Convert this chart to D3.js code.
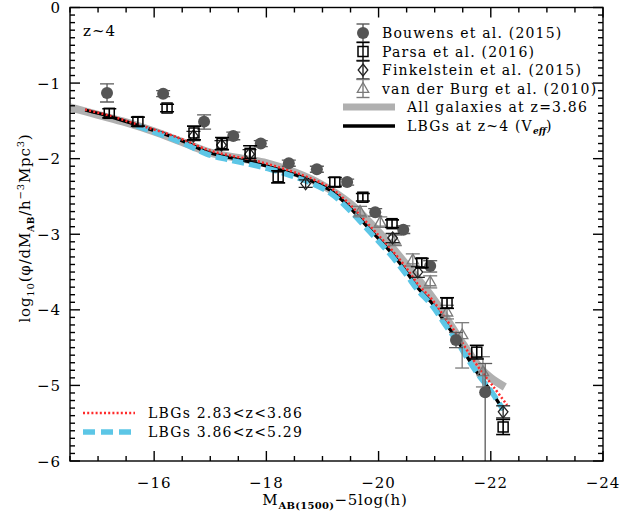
<!DOCTYPE html>
<html><head><meta charset="utf-8">
<script src="https://cdn.jsdelivr.net/npm/d3@7"></script>
<style>
body{margin:0;background:#fff;}
text{font-family:"DejaVu Serif",serif;fill:#000;}
</style></head>
<body><svg id="c" width="620" height="518"></svg>
<script>
// ---- data ----
const xTicks = [-16, -18, -20, -22, -24];
const yTicks = [0, -1, -2, -3, -4, -5, -6];

const bouwensM   = [-15.16, -16.16, -16.89, -17.41, -17.90, -18.40, -18.90, -19.44, -19.94, -20.44, -20.92, -21.38, -21.90];
const bouwensPhi = [-1.13, -1.14, -1.51, -1.70, -1.80, -2.06, -2.14, -2.31, -2.71, -2.94, -3.42, -4.40, -5.09];
const bouwensUp  = [0.12, 0.04, 0.09, 0.05, 0.04, 0.04, 0.04, 0.04, 0.05, 0.05, 0.07, 0.10, 0.38];
const bouwensDn  = [0.12, 0.04, 0.10, 0.05, 0.04, 0.04, 0.04, 0.04, 0.05, 0.05, 0.08, 0.10, 1.20];

const parsaM   = [-15.20, -15.71, -16.23, -16.71, -17.21, -17.71, -18.21, -19.22, -19.72, -20.24, -20.77, -21.22, -21.75, -22.22];
const parsaPhi = [-1.40, -1.51, -1.33, -1.66, -1.80, -1.93, -2.24, -2.31, -2.51, -2.86, -3.38, -3.91, -4.56, -5.55];
const parsaErr = [0.06, 0.06, 0.05, 0.09, 0.08, 0.10, 0.08, 0.06, 0.05, 0.05, 0.06, 0.07, 0.09, 0.10];

const finkM   = [-16.70, -17.20, -17.70, -18.70, -20.25, -20.70, -22.22];
const finkPhi = [-1.70, -1.82, -1.94, -2.33, -3.05, -3.50, -5.35];
const finkErr = [0.06, 0.06, 0.06, 0.05, 0.06, 0.07, 0.08];

const vdbM   = [-19.67, -20.03, -20.29, -20.61, -20.92, -21.22, -21.49, -21.86];
const vdbPhi = [-2.70, -2.84, -3.08, -3.34, -3.63, -4.03, -4.33, -4.82];
const vdbUp  = [0.07, 0.07, 0.07, 0.08, 0.08, 0.09, 0.16, 0.20];
const vdbDn  = [0.07, 0.07, 0.07, 0.08, 0.08, 0.09, 0.44, 0.20];

const allGalM   = [-14.5, -15.0, -15.5, -16.0, -16.5, -17.0, -17.5, -18.0, -18.5, -19.0, -19.5, -20.0, -20.5, -21.0, -21.5, -21.8, -22.0, -22.25];
const allGalPhi = [-1.32, -1.42, -1.52, -1.64, -1.78, -1.92, -1.99, -2.06, -2.18, -2.35, -2.60, -2.97, -3.41, -3.88, -4.45, -4.76, -4.90, -5.02];

const lbgM   = [-14.77, -15.20, -15.69, -16.23, -16.59, -16.94, -17.30, -17.71, -18.07, -18.42, -18.72, -19.13, -19.44, -19.72, -19.97, -20.26, -20.51, -20.70, -20.95, -21.18, -21.40, -21.59, -21.81, -21.99, -22.22];
const lbgPhi = [-1.356, -1.44, -1.554, -1.687, -1.792, -1.911, -1.978, -2.044, -2.110, -2.189, -2.268, -2.414, -2.612, -2.837, -3.036, -3.274, -3.512, -3.710, -3.909, -4.160, -4.398, -4.636, -4.888, -5.060, -5.324];

const lowzM   = [-14.77, -15.20, -15.69, -16.23, -16.59, -16.94, -17.30, -17.71, -18.07, -18.42, -18.72, -19.13, -19.44, -19.72, -19.97, -20.26, -20.51, -20.70, -20.95, -21.18, -21.40, -21.59, -21.81, -22.05, -22.29];
const lowzPhi = [-1.35, -1.43, -1.545, -1.67, -1.77, -1.88, -1.95, -2.01, -2.08, -2.16, -2.24, -2.38, -2.57, -2.79, -2.99, -3.23, -3.46, -3.66, -3.86, -4.10, -4.33, -4.55, -4.79, -5.02, -5.26];

const highzM   = [-15.69, -16.23, -16.59, -16.94, -17.30, -17.71, -18.07, -18.42, -18.72, -19.13, -19.44, -19.72, -19.97, -20.26, -20.51, -20.70, -20.95, -21.18, -21.40, -21.59, -21.81, -21.99, -22.22];
const highzPhi = [-1.565, -1.71, -1.82, -1.94, -2.01, -2.075, -2.14, -2.22, -2.30, -2.45, -2.65, -2.87, -3.07, -3.31, -3.55, -3.74, -3.94, -4.19, -4.42, -4.65, -4.89, -5.06, -5.32];

// ---- setup ----
const svg = d3.select("#c");
const L = 70, R = 603, T = 7.5, B = 461;
const x = d3.scaleLinear().domain([-14.5, -24]).range([L, R]);
const y = d3.scaleLinear().domain([0, -6]).range([T, B]);

svg.append("clipPath").attr("id","clip").append("rect")
  .attr("x",L).attr("y",T).attr("width",R-L).attr("height",B-T);
const plot = svg.append("g").attr("clip-path","url(#clip)");

const zip = (a,b) => a.map((v,i)=>[v,b[i]]);
const line = d3.line().x(d=>x(d[0])).y(d=>y(d[1])).curve(d3.curveCatmullRom.alpha(0.5));

// curves
plot.append("path").datum(zip(allGalM, allGalPhi)).attr("d", line)
  .attr("fill","none").attr("stroke","#b0b0b0").attr("stroke-width",8);
plot.append("path").datum(zip(lbgM, lbgPhi)).attr("d", line)
  .attr("fill","none").attr("stroke","#000").attr("stroke-width",3.2);
plot.append("path").datum(zip(highzM, highzPhi)).attr("d", line)
  .attr("fill","none").attr("stroke","#5cc6e6").attr("stroke-width",5.5).attr("stroke-dasharray","12,5");
plot.append("path").datum(zip(lowzM, lowzPhi)).attr("d", line)
  .attr("fill","none").attr("stroke","#ff2a2a").attr("stroke-width",2.5).attr("stroke-dasharray","2,2.2");

// error bar helper
function errbar(g, cx, yTop, yBot, color, cap, sw){
  g.append("line").attr("x1",cx).attr("x2",cx).attr("y1",yTop).attr("y2",yBot)
    .attr("stroke",color).attr("stroke-width",sw);
  [yTop,yBot].forEach(yy=>{
    g.append("line").attr("x1",cx-cap).attr("x2",cx+cap).attr("y1",yy).attr("y2",yy)
      .attr("stroke",color).attr("stroke-width",sw);
  });
}
function tri(cx, cy, s){ return `M${cx},${cy-s}L${cx+s*0.95},${cy+s*0.65}L${cx-s*0.95},${cy+s*0.65}Z`; }
function dia(cx, cy, s){ return `M${cx},${cy-s}L${cx+s*0.8},${cy}L${cx},${cy+s}L${cx-s*0.8},${cy}Z`; }

// van der Burg (gray triangles)
const gV = plot.append("g");
vdbM.forEach((m,i)=>{
  const cx=x(m), cy=y(vdbPhi[i]);
  errbar(gV, cx, y(vdbPhi[i]+vdbUp[i]), y(vdbPhi[i]-vdbDn[i]), "#7a7a7a", 7, 1.3);
  gV.append("path").attr("d",tri(cx,cy,6)).attr("fill","none").attr("stroke","#7a7a7a").attr("stroke-width",1.3);
});
// Bouwens (filled dark gray circles)
const gB = plot.append("g");
bouwensM.forEach((m,i)=>{
  const cx=x(m), cy=y(bouwensPhi[i]);
  errbar(gB, cx, y(bouwensPhi[i]+bouwensUp[i]), y(bouwensPhi[i]-bouwensDn[i]), "#5a5a5a", 7, 1.3);
  gB.append("circle").attr("cx",cx).attr("cy",cy).attr("r",6).attr("fill","#555");
});
// Finkelstein (diamonds)
const gF = plot.append("g");
finkM.forEach((m,i)=>{
  const cx=x(m), cy=y(finkPhi[i]);
  errbar(gF, cx, y(finkPhi[i]+finkErr[i]), y(finkPhi[i]-finkErr[i]), "#222", 7, 1.3);
  gF.append("path").attr("d",dia(cx,cy,6)).attr("fill","none").attr("stroke","#222").attr("stroke-width",1.3);
});
// Parsa (open squares)
const gP = plot.append("g");
parsaM.forEach((m,i)=>{
  const cx=x(m), cy=y(parsaPhi[i]);
  errbar(gP, cx, y(parsaPhi[i]+parsaErr[i]), y(parsaPhi[i]-parsaErr[i]), "#000", 7, 1.6);
  gP.append("rect").attr("x",cx-5).attr("y",cy-5).attr("width",10).attr("height",10)
    .attr("fill","none").attr("stroke","#000").attr("stroke-width",1.5);
});

// ---- axes / frame ----
const ax = svg.append("g").attr("stroke","#000").attr("stroke-width",1.4);
ax.append("rect").attr("x",L).attr("y",T).attr("width",R-L).attr("height",B-T).attr("fill","none");
for(let v=-14.5; v>=-24.001; v-=0.5){
  const major = Math.abs(v/2 - Math.round(v/2))<1e-6;
  const len = major?10:5, px=x(v);
  ax.append("line").attr("x1",px).attr("x2",px).attr("y1",B).attr("y2",B-len);
  ax.append("line").attr("x1",px).attr("x2",px).attr("y1",T).attr("y2",T+len);
}
for(let k=0; k<=60; k++){
  const v=-k/10, major=(k%10===0), len=major?10:5, py=y(v);
  ax.append("line").attr("x1",L).attr("x2",L+len).attr("y1",py).attr("y2",py);
  ax.append("line").attr("x1",R).attr("x2",R-len).attr("y1",py).attr("y2",py);
}
const minus = v => v<0 ? "\u2212"+Math.abs(v) : String(v);
svg.selectAll(".xt").data(xTicks).enter().append("text")
  .attr("x",d=>x(d)).attr("y",488).attr("text-anchor","middle")
  .style("font-size","15px").style("letter-spacing","1px").text(minus);
svg.selectAll(".yt").data(yTicks).enter().append("text")
  .attr("x",61).attr("y",d=>y(d)+5.5).attr("text-anchor","end")
  .style("font-size","15px").style("letter-spacing","1px").text(minus);

// x label
const xl = svg.append("text").attr("x",335).attr("y",505).attr("text-anchor","middle")
  .style("font-size","15px").style("letter-spacing","0.8px");
xl.append("tspan").text("M");
xl.append("tspan").attr("dy",4).style("font-size","10px").style("font-weight","bold").style("letter-spacing","0.3px").text("AB(1500)");
xl.append("tspan").attr("dy",-4).text("\u22125log(h)");

// y label
const yl = svg.append("text").attr("transform","translate(30,228) rotate(-90)").attr("text-anchor","middle")
  .style("font-size","15px").style("letter-spacing","0.8px");
yl.append("tspan").text("log");
yl.append("tspan").attr("dy",4).style("font-size","10px").text("10");
yl.append("tspan").attr("dy",-4).text("(\u03C6/dM");
yl.append("tspan").attr("dy",4).style("font-size","9px").style("font-weight","bold").text("AB");
yl.append("tspan").attr("dy",-4).text("/h");
yl.append("tspan").attr("dy",-6).style("font-size","10px").text("\u22123");
yl.append("tspan").attr("dy",6).text("Mpc");
yl.append("tspan").attr("dy",-6).style("font-size","10px").text("3");
yl.append("tspan").attr("dy",6).text(")");

// z~4
svg.append("text").attr("x",83).attr("y",36).style("font-size","15px").style("letter-spacing","1px").text("z~4");

// ---- legend top ----
const legPts = [
  {name:"Bouwens et al. (2015)", y:33, col:"#5a5a5a", sym:"circle"},
  {name:"Parsa et al. (2016)", y:51.5, col:"#000", sym:"square"},
  {name:"Finkelstein et al. (2015)", y:70, col:"#222", sym:"diamond"},
  {name:"van der Burg et al. (2010)", y:88.5, col:"#7a7a7a", sym:"tri"}
];
const LS = "1.2px";
const lg = svg.append("g");
legPts.forEach(d=>{
  const cx=363;
  errbar(lg, cx, d.y-9, d.y+9, d.col, 6.5, 1.4);
  if(d.sym==="circle") lg.append("circle").attr("cx",cx).attr("cy",d.y).attr("r",6).attr("fill","#555");
  if(d.sym==="square") lg.append("rect").attr("x",cx-5).attr("y",d.y-5).attr("width",10).attr("height",10).attr("fill","none").attr("stroke","#000").attr("stroke-width",1.5);
  if(d.sym==="diamond") lg.append("path").attr("d",dia(cx,d.y,6)).attr("fill","none").attr("stroke","#222").attr("stroke-width",1.3);
  if(d.sym==="tri") lg.append("path").attr("d",tri(cx,d.y,6)).attr("fill","none").attr("stroke","#7a7a7a").attr("stroke-width",1.3);
  lg.append("text").attr("x",382).attr("y",d.y+5).style("font-size","14px").style("letter-spacing",LS).text(d.name);
});
lg.append("line").attr("x1",343).attr("x2",395).attr("y1",107).attr("y2",107).attr("stroke","#b0b0b0").attr("stroke-width",7);
lg.append("text").attr("x",407).attr("y",112).style("font-size","14px").style("letter-spacing",LS).text("All galaxies at z=3.86");
lg.append("line").attr("x1",343).attr("x2",395).attr("y1",126).attr("y2",126).attr("stroke","#000").attr("stroke-width",3.5);
const t6 = lg.append("text").attr("x",407).attr("y",131).style("font-size","14px").style("letter-spacing",LS);
t6.append("tspan").text("LBGs at z~4 (V");
t6.append("tspan").attr("dy",3).style("font-size","9px").style("font-weight","bold").style("font-style","italic").style("letter-spacing","0px").text("eff");
t6.append("tspan").attr("dy",-3).text(")");

// ---- legend bottom ----
svg.append("line").attr("x1",83).attr("x2",135).attr("y1",413).attr("y2",413)
  .attr("stroke","#ff2a2a").attr("stroke-width",2.5).attr("stroke-dasharray","2,2.2");
svg.append("text").attr("x",148).attr("y",418).style("font-size","14px").style("letter-spacing",LS).text("LBGs 2.83<z<3.86");
svg.append("line").attr("x1",83).attr("x2",135).attr("y1",432).attr("y2",432)
  .attr("stroke","#5cc6e6").attr("stroke-width",5.5).attr("stroke-dasharray","12,6");
svg.append("text").attr("x",148).attr("y",437).style("font-size","14px").style("letter-spacing",LS).text("LBGs 3.86<z<5.29");
</script></body></html>
